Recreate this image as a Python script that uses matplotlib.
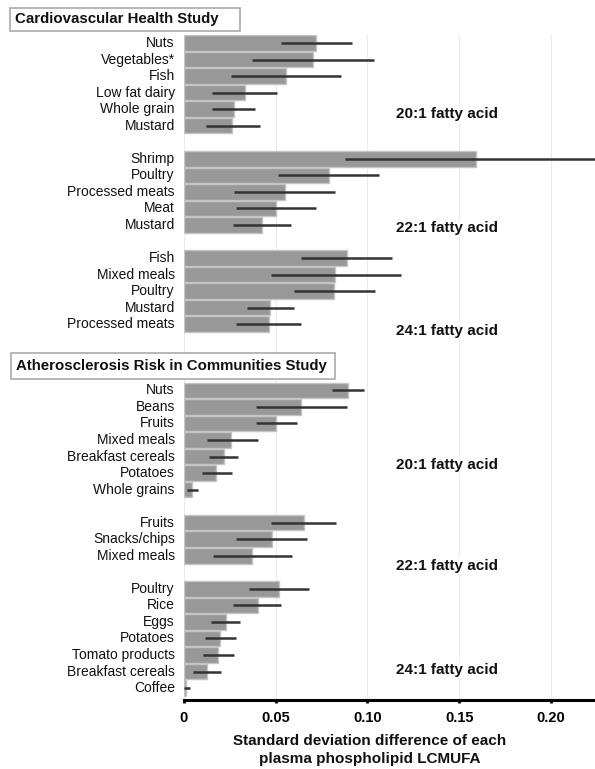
import numpy as np
import matplotlib.pyplot as plt
from matplotlib.patches import Rectangle

plt.rcParams['font.family'] = ['Liberation Sans', 'DejaVu Sans']

# Cardiovascular Health Study
chs_201_foods = ["Nuts", "Vegetables*", "Fish", "Low fat dairy", "Whole grain", "Mustard"]
chs_201_est = [0.0721, 0.0705, 0.0556, 0.0333, 0.0271, 0.0262]
chs_201_lo = [0.0531, 0.0370, 0.0254, 0.0153, 0.0153, 0.0118]
chs_201_hi = [0.0915, 0.1037, 0.0853, 0.0508, 0.0386, 0.0415]

chs_221_foods = ["Shrimp", "Poultry", "Processed meats", "Meat", "Mustard"]
chs_221_est = [0.1593, 0.0789, 0.0550, 0.0504, 0.0426]
chs_221_lo = [0.0878, 0.0514, 0.0275, 0.0285, 0.0267]
chs_221_hi = [0.2350, 0.1064, 0.0824, 0.0719, 0.0583]

chs_241_foods = ["Fish", "Mixed meals", "Poultry", "Mustard", "Processed meats"]
chs_241_est = [0.0886, 0.0824, 0.0816, 0.0471, 0.0461]
chs_241_lo = [0.0640, 0.0475, 0.0597, 0.0343, 0.0281]
chs_241_hi = [0.1136, 0.1182, 0.1041, 0.0597, 0.0636]

# Atherosclerosis Risk in Communities Study
aric_201_foods = ["Nuts", "Beans", "Fruits", "Mixed meals", "Breakfast cereals", "Potatoes", "Whole grains"]
aric_201_est = [0.0893, 0.0638, 0.0504, 0.0258, 0.0217, 0.0176, 0.0043]
aric_201_lo = [0.0804, 0.0393, 0.0393, 0.0126, 0.0136, 0.0097, 0.0017]
aric_201_hi = [0.0981, 0.0886, 0.0616, 0.0405, 0.0293, 0.0262, 0.0076]

aric_221_foods = ["Fruits", "Snacks/chips", "Mixed meals"]
aric_221_est = [0.0655, 0.0477, 0.0372]
aric_221_lo = [0.0475, 0.0285, 0.0157]
aric_221_hi = [0.0831, 0.0671, 0.0587]

aric_241_foods = ["Poultry", "Rice", "Eggs", "Potatoes", "Tomato products", "Breakfast cereals", "Coffee"]
aric_241_est = [0.0517, 0.0401, 0.0229, 0.0194, 0.0188, 0.0126, 0.0012]
aric_241_lo = [0.0353, 0.0267, 0.0146, 0.0116, 0.0101, 0.0048, 0.0000]
aric_241_hi = [0.0682, 0.0527, 0.0304, 0.0281, 0.0271, 0.0200, 0.0031]

xticks = [0, 0.05, 0.10, 0.15, 0.20]
xtick_labels = ["0", "0.05", "0.10", "0.15", "0.20"]

# (foods, est, lo, hi, first row, fatty acid label, label row)
groups = [
    (chs_201_foods, chs_201_est, chs_201_lo, chs_201_hi, 0, "20:1 fatty acid", 4.3),
    (chs_221_foods, chs_221_est, chs_221_lo, chs_221_hi, 7, "22:1 fatty acid", 11.2),
    (chs_241_foods, chs_241_est, chs_241_lo, chs_241_hi, 13, "24:1 fatty acid", 17.4),
    (aric_201_foods, aric_201_est, aric_201_lo, aric_201_hi, 21, "20:1 fatty acid", 25.5),
    (aric_221_foods, aric_221_est, aric_221_lo, aric_221_hi, 29, "22:1 fatty acid", 31.6),
    (aric_241_foods, aric_241_est, aric_241_lo, aric_241_hi, 33, "24:1 fatty acid", 37.9),
]

W, H = 595, 769
fig = plt.figure(figsize=(W / 100, H / 100), dpi=100)
ax = fig.add_axes([184 / W, 1 - 700 / H, 1 - 184 / W, (700 - 34.7) / H])

for foods, est, lo, hi, start, label, label_row in groups:
    y = start + np.arange(len(foods))
    ax.barh(y, est, height=0.94, color="#989898", edgecolor="#c4c4c4", linewidth=1, zorder=2)
    ax.hlines(y, lo, hi, color="#333333", linewidth=1.8, zorder=3)
    for yy, name in zip(y, foods):
        ax.text(-0.005, yy, name, ha="right", va="center", fontsize=10, color="#111111")
    ax.text(0.1155, label_row, label, ha="left", va="center", fontsize=11, fontweight="bold",
            color="#111111", zorder=4,
            bbox=dict(facecolor="white", edgecolor="none", pad=1))

ax.set_xlim(0, 0.224)
ax.set_ylim(39.72, -0.5)
ax.set_yticks([])
ax.set_xticks(xticks)
ax.set_xticklabels(xtick_labels, fontsize=10.5, fontweight="bold")
ax.tick_params(axis="x", length=2, width=2, pad=6, color="black")
ax.grid(axis="x", color="#ebebeb", linewidth=0.8, zorder=0)
ax.set_axisbelow(True)
for side in ["top", "right", "left"]:
    ax.spines[side].set_visible(False)
ax.spines["bottom"].set_linewidth(2.2)
ax.spines["bottom"].set_color("black")

# study title boxes (pixel boxes from the top-left corner)
for title, (x0, y0, x1, y1) in [("Cardiovascular Health Study", (10, 8, 240, 31)),
                                ("Atherosclerosis Risk in Communities Study", (11, 353, 335, 379))]:
    fig.patches.append(Rectangle((x0 / W, 1 - y1 / H), (x1 - x0) / W, (y1 - y0) / H,
                                 transform=fig.transFigure, facecolor="white",
                                 edgecolor="#aaaaaa", linewidth=1.2, zorder=5))
    fig.text((x0 + 5) / W, 1 - ((y0 + y1) / 2) / H, title, ha="left", va="center",
             fontsize=10.8, fontweight="bold", color="#111111", zorder=6)

fig.text(370 / W, 1 - 741 / H, "Standard deviation difference of each",
         ha="center", va="center", fontsize=11, fontweight="bold", color="#111111")
fig.text(370 / W, 1 - 759 / H, "plasma phospholipid LCMUFA",
         ha="center", va="center", fontsize=11, fontweight="bold", color="#111111")

fig.savefig("out.png", dpi=100)
